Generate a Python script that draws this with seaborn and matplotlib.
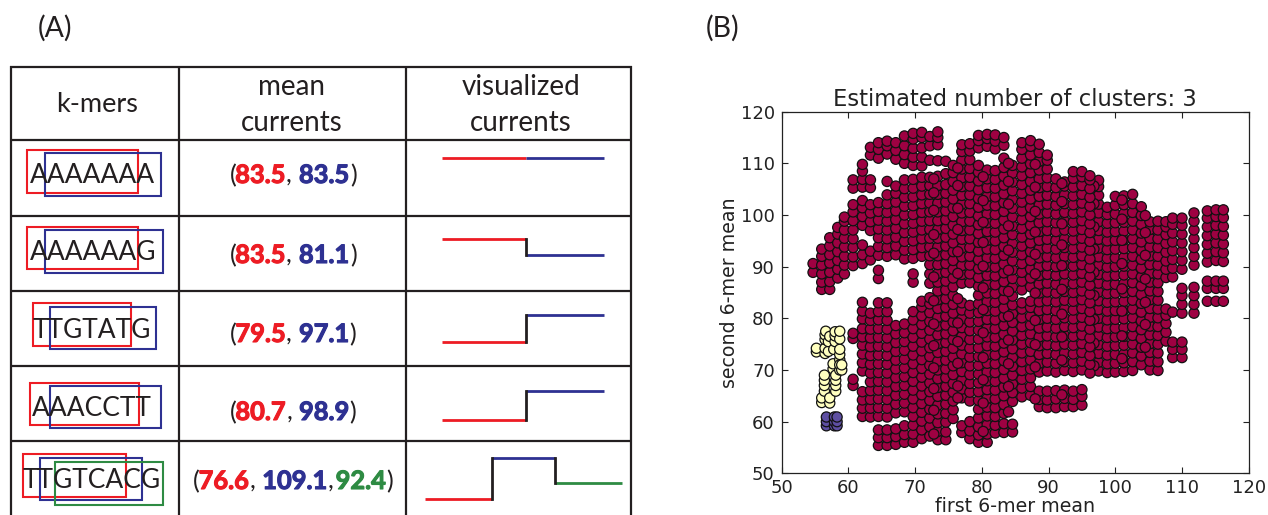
import matplotlib
matplotlib.use('Agg')
import matplotlib.pyplot as plt
from matplotlib.patches import Rectangle
import matplotlib.patheffects as pe
import pandas as pd
import seaborn as sns

# Panel A table content
kmers = ['AAAAAAA', 'AAAAAAG', 'TTGTATG', 'AAACCTT', 'TTGTCACG']
mean_currents = [['83.5', '83.5'], ['83.5', '81.1'], ['79.5', '97.1'], ['80.7', '98.9'], ['76.6', '109.1', '92.4']]
headers = ['k-mers', 'mean\ncurrents', 'visualized\ncurrents']
seq_colors = ['#ed1c24', '#2e3192', '#2e8b43']

# Panel B points, one list of second-mer means per first-mer column
red_x = [54.7, 56.0, 57.2, 58.4, 59.4, 60.7, 62.1, 63.3, 64.5, 65.8, 67.1, 68.4, 69.7, 71.0, 72.2, 73.4, 74.6,
         75.7, 77.0, 78.2, 79.5, 80.8, 82.0, 83.3, 84.6, 86.0, 87.3, 88.6, 89.8, 91.1, 92.4, 93.7, 95.0,
         97.5, 98.8, 100.0, 101.3, 102.6, 103.9, 105.2, 106.4, 107.6, 108.6, 110.0, 111.8, 113.8, 115.1, 116.2,
         72.8, 76.4, 80.2, 84.0, 88.0, 92.0, 96.8, 101.0, 104.5, 96.2]
red_y = [
    [88.9, 90.6],
    [85.6, 87, 88.6, 90.3, 92, 93.4],
    [85.6, 87.1, 88.9, 90.7, 92.3, 94, 95.6],
    [87.8, 89.5, 91.2, 92.9, 94.6, 96.3, 97.6],
    [88.6, 90.3, 92, 93.8, 95.5, 97.1, 98.8, 99.6],
    [67, 68.2, 76.1, 77.1, 90.2, 91.9, 93.7, 95.4, 97.1, 98.9, 100.6, 102, 105.2, 106.8],
    [61, 62.6, 64.2, 65.8, 69.8, 71.4, 73.1, 74.8, 76.4, 78, 79.9, 81.4, 83.1, 90.6, 92.3, 94.2, 98, 99.7, 101.4, 102.8, 105.4, 106.9, 108.5, 109.8],
    [60.9, 62.6, 64.3, 66, 67.7, 69.4, 71.1, 72.8, 74.5, 76.2, 77.9, 79.6, 81, 91.3, 93, 97, 98.7, 100.4, 102, 105.3, 106.8, 111.6, 113.1],
    [55.4, 56.9, 58.4, 61, 62.7, 64.4, 66.1, 67.8, 69.5, 71.2, 72.9, 74.6, 76.3, 78, 79.7, 81.3, 83, 87.7, 89.3, 92.2, 93.9, 95.6, 97.3, 99, 100.7, 102.4, 111, 112.7, 114],
    [55.4, 56.9, 58.4, 60.9, 62.6, 64.3, 66, 67.7, 69.4, 71.1, 72.8, 74.5, 76.2, 77.9, 79.6, 81.3, 83, 92, 93.7, 95.4, 97.1, 98.8, 100.5, 102.2, 103.9, 106.5, 111.8, 113.4, 114.3],
    [55.6, 57.1, 58.6, 61.7, 63.4, 65.1, 66.8, 68.5, 70.2, 71.9, 73.6, 75.3, 77, 78.6, 92.3, 94, 95.7, 97.4, 99.1, 100.8, 102.5, 104.2, 105.6, 110.8, 112.5, 114],
    [56, 57.5, 59.2, 61.9, 63.6, 65.3, 67, 68.7, 70.4, 72.1, 73.8, 75.5, 77.2, 78.9, 91.5, 93.2, 94.9, 96.6, 98.3, 100, 101.7, 103.4, 105.1, 106.8, 110, 111.7, 113.4, 115.3],
    [56, 57.6, 59.3, 61, 62.7, 64.4, 66.1, 67.8, 69.5, 71.2, 72.9, 74.6, 76.3, 78, 79.7, 81.3, 87, 88.6, 91.6, 93.3, 95, 96.7, 98.4, 100.1, 101.8, 103.5, 105.2, 106.9, 109.6, 111.2, 112.9, 114.7, 115.8],
    [56.7, 58.4, 60.1, 61.8, 63.5, 65.2, 66.9, 68.6, 70.3, 72, 73.7, 75.4, 77.1, 78.8, 80.5, 82.2, 83.3, 92, 93.7, 95.4, 97.1, 98.8, 100.5, 102.2, 103.9, 105.6, 107.3, 109.5, 111.2, 113, 115, 116],
    [57.2, 59, 60.7, 62.4, 64.1, 65.8, 67.5, 69.2, 70.9, 72.6, 74.3, 76, 77.7, 79.4, 81.1, 82.8, 84, 86.8, 88.6, 90.4, 92.1, 93.8, 95.5, 97.2, 98.9, 100.6, 102.3, 104, 105.7, 107.3, 110.6, 113.4, 115.2],
    [56.5, 58.1, 59.8, 61.5, 63.2, 64.9, 66.6, 68.3, 70, 71.7, 73.4, 75.1, 76.8, 78.5, 80.2, 81.9, 83.6, 85.3, 87, 88.7, 90.4, 92.1, 93.8, 95.5, 97.2, 98.9, 100.6, 102.3, 104, 105.7, 107.5, 110.5, 113.6, 115, 116.1],
    [56.5, 58, 59.9, 61.6, 63.4, 65.1, 66.8, 68.5, 70.2, 71.9, 73.6, 75.3, 77, 78.7, 80.4, 82.1, 83.8, 85.5, 87.2, 88.9, 90.6, 92.3, 94, 95.7, 97.4, 99.1, 100.8, 102.5, 104.2, 105.9, 108, 110.4],
    [60.6, 62.3, 64, 65.7, 67.4, 69.1, 70.8, 72.5, 74.2, 75.9, 77.6, 79.3, 81, 82.7, 84.4, 86.1, 87.8, 89.5, 91.2, 92.9, 94.6, 96.3, 98, 99.7, 101.4, 103.1, 104.8, 106.5, 108.2, 109.6],
    [57.9, 59.2, 64.6, 66.3, 68, 69.7, 71.4, 73.1, 74.8, 76.5, 78.2, 79.9, 81.6, 83, 86.8, 88.5, 90.2, 91.9, 93.6, 95.3, 97, 98.7, 100.4, 102.1, 103.8, 105.5, 107.2, 108.9, 110.6, 112.3, 113.6],
    [56.7, 58.2, 60, 64, 65.7, 67.4, 69.1, 70.8, 72.5, 74.2, 75.9, 77.6, 79.3, 81, 82.5, 86.9, 88.6, 90.3, 92, 93.7, 95.4, 97.1, 98.8, 100.5, 102.2, 103.9, 105.6, 107.3, 109, 110.7, 112.4, 113.8],
    [56, 57.4, 59, 60.7, 62.4, 64.1, 65.8, 67.5, 69.2, 70.9, 72.6, 74.3, 76, 77.7, 79.4, 81.1, 82.8, 84.5, 86.2, 87.9, 89.6, 91.3, 93, 94.7, 96.4, 98.1, 99.8, 101.5, 103.2, 104.9, 106.6, 108.3, 109.6, 113, 114.4, 115.4],
    [56, 57.6, 59.4, 61.1, 62.8, 64.5, 66.2, 67.9, 69.6, 71.3, 73, 74.7, 76.4, 78.1, 79.8, 81.5, 83.2, 84.9, 86.6, 88.3, 90, 91.7, 93.4, 95.1, 96.8, 98.5, 100.2, 101.9, 103.6, 105.3, 107, 108.7, 113.3, 114.8, 115.6],
    [57.8, 59.3, 61, 62.7, 64.4, 66.1, 67.8, 69.5, 71.2, 72.9, 74.6, 76.3, 78, 79.7, 81.4, 83.1, 84.8, 86.5, 88.2, 89.9, 91.6, 93.3, 95, 96.7, 98.4, 100.1, 101.8, 103.5, 105.2, 106.9, 108.6, 112.8, 114.3, 115.5],
    [57.9, 59.6, 61.6, 63.3, 65, 66.7, 68.4, 70.1, 71.8, 73.5, 75.2, 76.9, 78.6, 80.3, 82, 83.7, 85.4, 87.1, 88.8, 90.5, 92.2, 93.9, 95.6, 97.3, 99, 100.7, 102.4, 104.1, 105.8, 107.5, 109.2, 111, 113.5, 115],
    [58, 59.5, 63.9, 65.6, 67.3, 69, 70.7, 72.4, 74.1, 75.8, 77.5, 79.2, 80.9, 82.6, 84.3, 86, 87.7, 89.4, 91.1, 92.8, 94.5, 96.2, 97.9, 99.6, 101.3, 103, 104.7, 106.4, 108.1, 109.6],
    [64.8, 66.5, 68.2, 69.9, 71.6, 73.3, 75, 76.7, 78.4, 80.1, 81.8, 83, 85.5, 87.2, 88.9, 90.6, 92.3, 94, 95.7, 97.4, 99.1, 100.8, 102.5, 104.2, 105.9, 107.6, 109.3, 111, 112.7, 114],
    [65.1, 66.8, 68.5, 70.2, 71.9, 73.6, 75.3, 77, 78.7, 80.4, 82.1, 83.3, 86.1, 87.8, 89.5, 91.2, 92.9, 94.6, 96.3, 98, 99.7, 101.4, 103.1, 104.8, 106.5, 108.2, 109.9, 111.6, 113.3, 114.4],
    [62.9, 64.3, 65.9, 69.6, 71.3, 73, 74.7, 76.4, 78.1, 79.8, 81.5, 83.2, 84.9, 86.6, 88.3, 90, 91.7, 93.4, 95.1, 96.8, 98.5, 100.2, 101.9, 103.6, 105.3, 107, 108.7, 110.4, 112.1, 113.7],
    [62.7, 64.2, 65.9, 69.8, 71.5, 73.2, 74.9, 76.6, 78.3, 80, 81.7, 83.4, 85.1, 86.8, 88.5, 90.2, 91.9, 93.6, 95.3, 97, 98.7, 100.4, 102.1, 103.8, 105.5, 107.2, 108.9, 110.6, 111.6],
    [62.7, 64.4, 66, 69.6, 71.3, 73, 74.7, 76.4, 78.1, 79.8, 81.5, 83.2, 84.9, 86.6, 88.3, 90, 91.7, 93.4, 95.1, 96.8, 98.5, 100.2, 101.9, 103.6, 105.3, 107],
    [62.9, 64.5, 66.1, 69.9, 71.6, 73.3, 75, 76.7, 78.4, 80.1, 81.8, 83.5, 85.2, 86.9, 88.6, 90.3, 92, 93.7, 95.4, 97.1, 98.8, 100.5, 102.2, 103.9, 105.6, 106.4],
    [62.9, 64.3, 65.9, 69.7, 71.4, 73.1, 74.8, 76.5, 78.2, 79.9, 81.6, 83.3, 85, 86.7, 88.4, 90.1, 91.8, 93.5, 95.2, 96.9, 98.6, 100.3, 102, 103.7, 105.4, 107.1, 108.4],
    [63.2, 64.9, 66.2, 70, 71.7, 73.4, 75.1, 76.8, 78.5, 80.2, 81.9, 83.6, 85.3, 87, 88.7, 90.4, 92.1, 93.8, 95.5, 97.2, 98.9, 100.6, 102.3, 104, 105.7, 107.4, 108.4],
    [69.8, 71.5, 73.2, 74.9, 76.6, 78.3, 80, 81.7, 83.4, 85.1, 86.8, 88.5, 90.2, 91.9, 93.6, 95.3, 97, 98.7, 100.4, 102.1, 103.8, 105.5, 106.7],
    [69.5, 71.2, 72.9, 74.6, 76.3, 78, 79.7, 81.4, 83.1, 84.8, 86.5, 88.2, 89.9, 91.6, 93.3, 95, 96.7, 98.4, 100.1, 101.5],
    [69.6, 71.3, 73, 74.7, 76.4, 78.1, 79.8, 81.5, 83.2, 84.9, 86.6, 88.3, 90, 91.7, 93.4, 95.1, 96.8, 98.5, 100.2, 101.9, 103.6],
    [69.7, 71.4, 73.1, 74.8, 76.5, 78.2, 79.9, 81.6, 83.3, 85, 86.7, 88.4, 90.1, 91.8, 93.5, 95.2, 96.9, 98.6, 100.3, 102, 103.7],
    [69.9, 71.6, 73.3, 75, 76.7, 78.4, 80.1, 81.8, 83.5, 85.2, 86.9, 88.6, 90.3, 92, 93.7, 95.4, 97.1, 98.8, 100.5, 102.2, 104],
    [71, 72.7, 74.4, 76.1, 77.8, 79.5, 81.2, 82.9, 84.6, 86.3, 88, 89.7, 91.4, 93.1, 94.8, 96.5, 98.2, 99.9, 101.6],
    [70, 71.7, 73.4, 75.1, 76.8, 78.5, 80.2, 81.9, 83.6, 85.3, 87, 88.7, 90.4, 92.1, 93.8, 95.5, 97.2, 98.7],
    [69.9, 71.6, 73.3, 75, 76.7, 78.4, 80.1, 81.8, 83.5, 85.2, 86.9, 88.6, 90.3, 92, 93.7, 95.4, 97.1, 98.8],
    [75.6, 77.3, 79, 80.6, 81.8, 87.9, 89.5, 91.1, 92.8, 94.5, 96.2, 97.7, 98.7],
    [72.4, 74, 75.4, 81.2, 88, 89.7, 91.4, 93.1, 94.8, 96.5, 98.2, 99.4],
    [72.4, 74, 75.4, 81, 82.7, 84.4, 85.8, 89.5, 91.2, 92.9, 94.6, 96.3, 98, 99.4],
    [81, 82.7, 84.4, 86, 90.3, 92, 93.7, 95.4, 97.1, 98.8, 100.4],
    [83.3, 85.8, 87.2, 90.9, 92.6, 94.3, 96, 97.7, 99.4, 100.8],
    [83.3, 85.8, 87.2, 91.2, 92.9, 94.6, 96.3, 98, 99.7, 101],
    [83.3, 85.8, 87.2, 91, 92.7, 94.4, 96.1, 97.8, 99.5, 101],
    [57.6, 62.2, 66.4, 70.4, 74.7, 78.9, 83.4, 88, 92.6, 96.2, 100.9, 104.3, 107],
    [64.6, 66.9, 71.3, 75.5, 79.1, 83.8, 88.7, 92.9, 97.2, 101.3, 105.7, 109.1],
    [58.1, 63.6, 68.1, 72.4, 77.2, 81.7, 85.9, 90.1, 94.7, 98.6, 102.8, 107.4],
    [61.9, 66.8, 71.2, 75.8, 80.4, 85.2, 89.3, 93.2, 97.9, 102.1, 106.5, 110],
    [64.4, 70.6, 74.9, 79.6, 84.9, 88.6, 92.4, 96.7, 100.7, 105.4, 109.8],
    [65.2, 71.9, 76.4, 80.8, 85.6, 90.2, 94.2, 98.3, 102.6, 106.1],
    [70.8, 75.2, 79.8, 84.4, 88.9, 93.4, 97.7, 102.2, 105.6],
    [72.2, 76.6, 81.4, 85.7, 90.6, 95.1, 99.2, 102.9],
    [74.4, 78.8, 83.1, 87.6, 92.2, 96.6, 99.9],
    [69.4, 71.1, 72.8, 74.5, 76.2, 77.9, 79.6, 81.3, 83, 84.7, 86.4, 88.1, 89.8, 91.5, 93.2, 94.9, 96.6, 98.3, 100, 101.7, 103.4, 105.1, 106.8, 107.6],
]
yellow_x = [55.2, 55.2, 56, 56, 56.4, 56.4, 56.4, 56.4, 56.5, 56.5, 56.5, 56.5, 56.6, 57, 57, 57.2, 57.2, 57.2, 57.7, 57.7,
            57.8, 58, 58, 58, 58.1, 58.1, 58.1, 58.1, 58.7, 58.7, 58.7, 58.7, 58.7, 58.7, 58.7, 59, 59]
yellow_y = [73.5, 74.2, 63.7, 64.6, 65.9, 67, 68, 69, 73.2, 74.2, 75.9, 76.8, 77.5, 73.6, 75.5, 76.5, 63.6, 64.6, 70.2, 71.2,
            74, 75.5, 76.6, 77.4, 65.9, 67, 68, 69, 72, 73, 74, 76, 77.5, 70, 71, 70, 71]
blue_x = [56.7, 56.7, 56.7, 57.9, 57.9, 57.9, 58.3, 58.3, 58.3]
blue_y = [59.2, 60, 60.9, 59.2, 60, 60.9, 59.2, 60, 60.9]
cluster_colors = {'a': '#9e0142', 'b': '#ffffbf', 'c': '#5e4fa2'}

sns.set_style('white')
LABEL_FONT = ['Lato', 'DejaVu Sans']

fig = plt.figure(figsize=(12.68, 5.15), dpi=100)

# full figure axes in pixels for the table artwork
art = fig.add_axes([0, 0, 1, 1])
art.set_xlim(0, 1268)
art.set_ylim(515, 0)
art.axis('off')

art.text(38, 28, '(A)', fontsize=20.5, family=LABEL_FONT, color='#231f20', va='center')
art.text(706, 28, '(B)', fontsize=20.5, family=LABEL_FONT, color='#231f20', va='center')

# table grid
col_edges = [11, 179, 406, 631]
row_edges = [67, 140, 216, 291, 366, 441]
for c in col_edges:
    art.plot([c, c], [66, 515], color='#231f20', lw=1.6, solid_capstyle='butt')
for r in row_edges:
    art.plot([10, 632], [r, r], color='#231f20', lw=1.6, solid_capstyle='butt')

art.text(97, 105, headers[0], ha='center', va='center', fontsize=19.5, family=LABEL_FONT, color='#231f20')
art.text(292, 105, headers[1], ha='center', va='center', fontsize=20, family=LABEL_FONT, color='#231f20', linespacing=1.45)
art.text(521, 105, headers[2], ha='center', va='center', fontsize=20, family=LABEL_FONT, color='#231f20', linespacing=1.45)

# boxes around the sliding 6-mers: left, right, top, bottom in pixels
kmer_boxes = [
    [(27, 138, 150, 193), (44.6, 160.6, 153, 196)],
    [(27, 138, 227, 269), (44.6, 162.6, 230, 273)],
    [(33, 131, 303, 346), (50, 156, 307, 349)],
    [(30, 138.5, 383, 425), (50, 160.6, 386, 428)],
    [(22.5, 126, 454, 497), (40, 142, 458, 500), (55, 162.6, 462, 505)],
]
kmer_base = [183, 260, 338, 416, 488]
kmer_mid = [92, 93, 92, 92, 92]
num_base = [183, 263, 342, 420, 489]
for i, word in enumerate(kmers):
    art.text(kmer_mid[i], kmer_base[i], word, ha='center', va='baseline', fontsize=19, family=LABEL_FONT, color='#231f20')
    for k, (l, rt, t, b) in enumerate(kmer_boxes[i]):
        art.add_patch(Rectangle((l, t), rt - l, b - t, fill=False, ec=seq_colors[k], lw=1.5))

# coloured mean current tuples, laid out piece by piece
renderer = fig.canvas.get_renderer()
for i, vals in enumerate(mean_currents):
    pieces = [('(', '#231f20', 'normal', -1)]
    for k, v in enumerate(vals):
        pieces.append((v, seq_colors[k], 'bold', 0.5))
        if k < len(vals) - 1:
            pieces.append((',', '#231f20', 'normal', 7 if k == 0 else 2))
    pieces.append((')', '#231f20', 'normal', 0))
    drawn = []
    x = 0
    for s, col, w, gap in pieces:
        t = art.text(x, num_base[i], s, color=col, fontweight=w, fontsize=18.3, family=LABEL_FONT, va='baseline')
        if w == 'bold':
            t.set_path_effects([pe.withStroke(linewidth=0.8, foreground=col)])
        wid = t.get_window_extent(renderer).width
        drawn.append((t, x))
        x += wid + gap
    start = 293 - x / 2
    for t, x0 in drawn:
        t.set_x(start + x0)

# stepped current traces: x breaks and y level per segment, in pixels
trace_x = [[442, 526, 604], [442, 526, 604], [442, 526, 604], [442, 526, 604], [425, 492, 555, 622]]
trace_y = [[158, 158], [238.7, 255], [341.7, 315.3], [419.7, 391], [499, 458.3, 483.3]]
for xs, ys in zip(trace_x, trace_y):
    for k in range(len(ys)):
        art.plot([xs[k], xs[k + 1]], [ys[k], ys[k]], color=seq_colors[k], lw=2, solid_capstyle='butt')
        if k > 0 and ys[k] != ys[k - 1]:
            art.plot([xs[k], xs[k]], [ys[k - 1], ys[k]], color='#231f20', lw=2, solid_capstyle='projecting')

# panel B scatter
rows = []
for x, ys in zip(red_x, red_y):
    rows += [(x, y, 'a') for y in ys]
rows += [(x, y, 'b') for x, y in zip(yellow_x, yellow_y)]
rows += [(x, y, 'c') for x, y in zip(blue_x, blue_y)]
df = pd.DataFrame(rows, columns=['first', 'second', 'cluster'])

ax = fig.add_axes([781.7 / 1268, (515 - 473.3) / 515, 467 / 1268, 361.6 / 515])
sns.scatterplot(data=df, x='first', y='second', hue='cluster', palette=cluster_colors, s=54,
                edgecolor='#111111', linewidth=0.9, legend=False, ax=ax, clip_on=True)
ax.set_xlim(50, 120)
ax.set_ylim(50, 120)
ax.set_xticks(range(50, 121, 10))
ax.set_yticks(range(50, 121, 10))
ax.tick_params(direction='in', top=True, right=True, bottom=True, left=True, length=4.5, width=0.8, labelsize=13, pad=4, color='#222222', labelcolor='#222222')
ax.tick_params(axis='y', pad=5)
for s in ax.spines.values():
    s.set_color('#222222')
    s.set_linewidth(0.9)
ax.set_title('Estimated number of clusters: 3', fontsize=16.3, pad=4, color='#222222')
ax.set_xlabel('first 6-mer mean', fontsize=13.7, labelpad=0, color='#222222')
ax.set_ylabel('second 6-mer mean', fontsize=13.7, labelpad=1, color='#222222')

fig.savefig('out.png', dpi=100)
